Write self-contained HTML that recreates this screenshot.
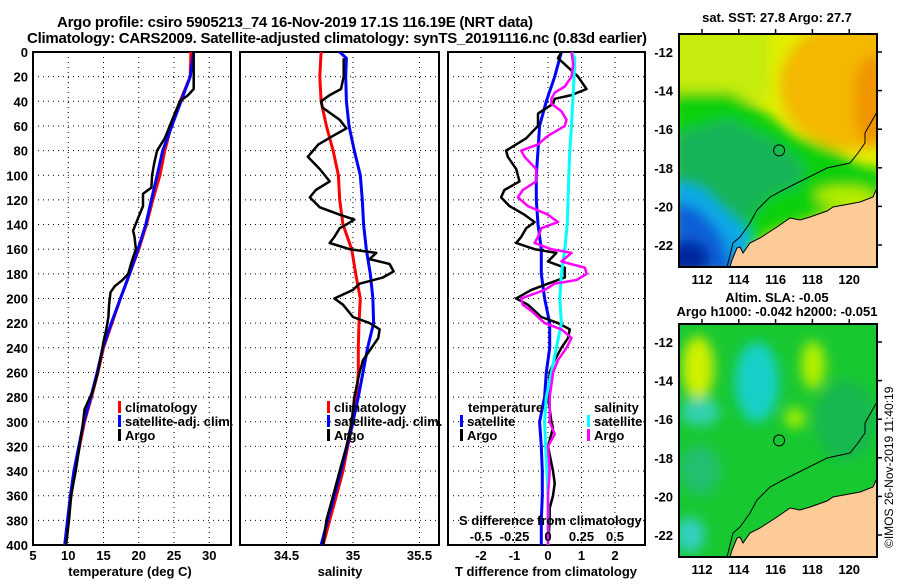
<!DOCTYPE html>
<html><head><meta charset="utf-8">
<style>
html,body{margin:0;padding:0;background:#fff;}
svg text{font-family:"Liberation Sans",sans-serif;font-weight:bold;fill:#000;}
</style></head>
<body>
<svg id="fig" width="900" height="580" viewBox="0 0 900 580" xmlns="http://www.w3.org/2000/svg">
<defs>
  <filter id="blur" x="-20%" y="-20%" width="140%" height="140%"><feGaussianBlur stdDeviation="6"/></filter>
  <clipPath id="clipTop"><rect x="679" y="34" width="198" height="233"/></clipPath>
  <clipPath id="clipBot"><rect x="679" y="324" width="198" height="233"/></clipPath>
  <clipPath id="cp1"><rect x="33" y="52" width="198" height="493"/></clipPath>
  <clipPath id="cp2"><rect x="240" y="52" width="199" height="493"/></clipPath>
  <clipPath id="cp3"><rect x="448" y="52" width="197" height="493"/></clipPath>
</defs>
<text x="295" y="27" text-anchor="middle" font-size="15" textLength="476">Argo profile: csiro 5905213_74 16-Nov-2019 17.1S 116.19E (NRT data)</text>
<text x="337" y="43" text-anchor="middle" font-size="15" textLength="620">Climatology: CARS2009. Satellite-adjusted climatology: synTS_20191116.nc (0.83d earlier)</text>

<g id="p1"></g>
<g id="p2"></g>
<g id="p3"></g>

<g>
  <text x="777" y="22" text-anchor="middle" font-size="13">sat. SST: 27.8 Argo: 27.7</text>
  <g clip-path="url(#clipTop)">
    <rect x="679" y="34" width="198" height="233" fill="#e2ee00"/>
    <g filter="url(#blur)">
      <rect x="670" y="25" width="100" height="75" fill="#c6ec10"/>
      <ellipse cx="855" cy="85" rx="75" ry="65" fill="#f4b800"/>
      <ellipse cx="872" cy="100" rx="18" ry="45" fill="#f09400"/>
      <polygon points="672,92 730,92 765,112 795,135 835,150 860,165 885,170 885,200 830,210 800,222 770,232 750,250 738,275 672,275" fill="#10d010"/>
      <polygon points="672,135 728,118 772,140 805,165 800,185 770,195 745,225 720,205 672,185" fill="#12b458"/>
      <ellipse cx="845" cy="196" rx="30" ry="9" fill="#b8ee00"/>
      <polygon points="672,180 702,188 725,210 748,230 752,275 672,275" fill="#10a8e8"/>
      <polygon points="672,200 700,210 722,235 735,275 672,275" fill="#1060d8"/>
      <ellipse cx="688" cy="258" rx="22" ry="18" fill="#0028a0"/>
    </g>
  </g>
</g>
<g>
  <text x="777" y="302" text-anchor="middle" font-size="13">Altim. SLA: -0.05</text>
  <text x="777" y="316" text-anchor="middle" font-size="13">Argo h1000: -0.042 h2000: -0.051</text>
  <g clip-path="url(#clipBot)">
    <rect x="679" y="324" width="198" height="233" fill="#18c830"/>
    <g filter="url(#blur)">
      <ellipse cx="698" cy="368" rx="16" ry="32" fill="#d0f000"/>
      <ellipse cx="813" cy="365" rx="12" ry="24" fill="#b4f000"/>
      <ellipse cx="795" cy="418" rx="10" ry="10" fill="#a8f000"/>
      <ellipse cx="757" cy="382" rx="22" ry="40" fill="#18d0c8"/>
      <ellipse cx="700" cy="412" rx="20" ry="14" fill="#30d0b0"/>
      <ellipse cx="845" cy="420" rx="30" ry="40" fill="#18b850"/>
      <ellipse cx="690" cy="535" rx="15" ry="18" fill="#30d0c0"/>
      <ellipse cx="700" cy="470" rx="20" ry="25" fill="#20c070"/>
    </g>
  </g>
</g>
<g id="maps"></g>
<text transform="translate(893,548) rotate(-90)" font-size="12" style="font-weight:normal">©IMOS 26-Nov-2019 11:40:19</text>
</svg>

<script>
// ---------- data ----------
const tempClimDepth=[0,20,40,60,80,100,120,140,160,180,200,220,240,260,280,300,320,340,360,380,400];
const tempClim=[27.4,27.3,25.85,24.6,23.7,23.0,22.0,21.1,20.0,18.7,17.4,16.2,15.0,14.2,13.3,12.3,11.6,10.9,10.4,10.0,9.6];
const tempSatDepth=[0,20,40,60,80,100,120,140,160,180,200,220,240,260,280,300,320,340,360,380,400];
const tempSat=[27.8,27.3,26.0,24.7,23.4,22.6,21.8,21.0,19.9,18.7,17.4,16.1,14.9,14.1,13.2,12.2,11.5,10.8,10.3,9.9,9.5];
const tempArgoDepth=[0,30,35,40,50,60,70,80,90,100,110,115,125,135,145,150,160,170,180,185,190,195,205,215,225,235,245,260,275,290,300,320,340,360,380,400];
const tempArgo=[27.8,27.8,27.0,25.85,25.1,24.4,23.7,22.6,22.2,21.9,21.8,20.6,20.6,19.9,19.2,19.4,19.6,19.0,18.5,17.7,16.6,16.0,15.8,15.7,15.4,15.0,14.7,14.2,13.5,12.3,12.1,11.6,11.05,10.4,10.1,9.7];

const salClimDepth=[0,20,40,60,80,100,120,140,160,180,200,220,240,260,280,300,320,340,360,380,400];
const salClim=[34.76,34.75,34.76,34.80,34.85,34.89,34.90,34.925,34.99,35.02,35.055,35.045,35.04,35.04,35.025,35.0,34.96,34.925,34.875,34.825,34.775];
const salSatDepth=[0,5,20,40,60,80,100,120,140,160,180,200,220,240,260,280,300,320,340,360,380,400];
const salSat=[34.90,34.95,34.945,34.95,34.97,35.01,35.055,35.07,35.08,35.10,35.13,35.15,35.155,35.11,35.075,35.04,35.0,34.955,34.91,34.86,34.81,34.76];
const salArgoDepth=[5,20,30,35,40,45,55,62,68,75,85,95,105,112,118,126,132,136,140,143,150,155,160,163,168,172,178,183,188,193,200,205,215,220,225,232,240,250,260,280,300,320,340,360,380,400];
const salArgo=[34.93,34.93,34.91,34.825,34.76,34.77,34.90,34.95,34.85,34.74,34.66,34.75,34.825,34.72,34.675,34.75,34.90,35.01,34.95,34.90,34.86,34.825,34.975,35.175,35.125,35.275,35.305,35.225,35.05,35.0,34.86,34.925,35.0,35.125,35.2,35.19,35.14,35.075,35.05,35.01,34.99,34.95,34.9,34.85,34.8,34.775];

const tDiffSatDepth=[0,20,40,60,80,100,120,140,160,180,200,220,240,260,280,300,320,340,360,380,400];
const tDiffSat=[0.4,0.2,-0.05,-0.25,-0.3,-0.35,-0.35,-0.3,-0.2,-0.2,-0.1,0.05,0.05,-0.05,-0.1,-0.25,-0.2,-0.17,-0.17,-0.2,-0.2];
const tDiffArgoDepth=[0,5,10,20,30,35,38,42,50,60,70,80,85,95,105,112,118,125,132,138,143,150,155,160,163,170,175,183,188,193,200,205,215,220,225,232,240,250,260,280,300,305,320,340,350,360,370,380,400];
const tDiffArgo=[0.4,0.3,0.5,0.9,1.15,0.7,0.2,0.15,-0.3,-0.3,-0.65,-1.25,-1.2,-0.95,-0.85,-1.3,-1.4,-1.15,-0.7,-0.4,-0.65,-0.8,-0.95,-0.4,0.25,0.0,0.5,0.5,0.0,-0.5,-0.95,-0.6,-0.2,0.3,0.65,0.6,0.4,0.2,0.05,0.0,0.1,0.15,0.0,0.15,0.2,0.15,0.05,0.05,0.0];
const sDiffSatDepth=[0,5,20,40,60,80,100,120,140,160,170,180,200,220,240,260,280,300,320,340,360,380,400];
const sDiffSat=[0.175,0.2,0.195,0.185,0.175,0.163,0.155,0.15,0.143,0.125,0.113,0.1,0.088,0.1,0.063,0.025,-0.013,-0.025,-0.018,-0.008,0,0,0];
const sDiffArgoDepth=[0,10,20,28,33,38,42,48,55,60,68,75,80,85,95,105,112,118,125,132,138,143,150,155,160,163,170,175,180,185,188,193,200,205,210,220,225,232,240,250,260,280,300,310,320,340,360,400];
const sDiffArgo=[0.175,0.188,0.175,0.125,0.05,0.025,0.025,0.1,0.138,0.125,0,-0.075,-0.2,-0.175,-0.088,-0.088,-0.188,-0.225,-0.15,0,0.075,-0.05,-0.075,-0.1,0.025,0.175,0.1,0.275,0.288,0.213,0.05,-0.025,-0.2,-0.188,-0.125,-0.025,0.1,0.175,0.138,0.075,0.038,0.013,0.013,0.05,0,0.013,0,0];

const depthTicks=[0,20,40,60,80,100,120,140,160,180,200,220,240,260,280,300,320,340,360,380,400];
const tempTicks=[5,10,15,20,25,30];
const salTicks=[34.5,35,35.5];
const tDiffTicks=[-2,-1,0,1,2];
const sDiffTicks=[-0.5,-0.25,0,0.25,0.5];
const sDiffTickLabels=["-0.5","-0.25","0","0.25","0.5"];
const mapLatTicks=[-12,-14,-16,-18,-20,-22];
const mapLonTicks=[112,114,116,118,120];

// ---------- scales ----------
const NS="http://www.w3.org/2000/svg";
const yD=d=>52+d*1.2325;
const xT=t=>33+(t-5)*7.05;
const xS=s=>286.5+(s-34.5)*133;
const xTD=t=>548+t*33.5;
const xSD=s=>548+s*134;
const mapX=lon=>702+(lon-112)*18.4;
const mapY=(lat,off)=>52+off+(-12-lat)*19.3;

function mk(tag,attrs,parent){const e=document.createElementNS(NS,tag);for(const k in attrs)e.setAttribute(k,attrs[k]);parent.appendChild(e);return e;}
function txt(parent,x,y,s,anchor,size){const t=mk('text',{x:x,y:y,'text-anchor':anchor,'font-size':size},parent);t.textContent=s;return t;}

function panel(g,x0,x1,xticks,xfn,xlabels,title,titleX,showY){
  depthTicks.forEach(d=>{
    if(d>0&&d<400){const l=mk('line',{x1:x0,x2:x1,y1:yD(d),y2:yD(d),stroke:'#000','stroke-width':1,'stroke-dasharray':'1,4'},g);
    
    }
    if(showY){const t=txt(g,28,yD(d)+5,String(d),'end',13);
    
    }
  });
  xticks.forEach((v,i)=>{
    const X=xfn(v);
    if(X>x0+1&&X<x1-1){const l=mk('line',{x1:X,x2:X,y1:52,y2:545,stroke:'#000','stroke-width':1,'stroke-dasharray':'1,4'},g);
    
    }
    const t=txt(g,X,560,xlabels[i],'middle',13);
    
    
  });
  const r=mk('rect',{x:x0,y:52,width:x1-x0,height:493,fill:'none',stroke:'#000','stroke-width':2},g);
  
  
  const t=txt(g,titleX,576,title,'middle',13);
  
  
}
function series(g,clip,depths,vals,xfn,color,w,name){
  const pts=depths.map((d,i)=>xfn(vals[i]).toFixed(1)+','+yD(d).toFixed(1)).join(' ');
  const p=mk('polyline',{points:pts,fill:'none',stroke:color,'stroke-width':w,'stroke-linejoin':'round','clip-path':'url(#'+clip+')'},g);
  
  
}
function legend(g,x,y,color,label){
  const b=mk('rect',{x:x,y:y-6,width:3,height:12,fill:color},g);
  
  
  const t=txt(g,x+7,y+5,label,'start',13);
  
  
}

const p1=document.getElementById('p1'),p2=document.getElementById('p2'),p3=document.getElementById('p3');
panel(p1,33,231,tempTicks,xT,tempTicks.map(String),'temperature (deg C)',130,true);
series(p1,'cp1',tempClimDepth,tempClim,xT,'#ff0000',3,'temperature-climatology-line');
series(p1,'cp1',tempSatDepth,tempSat,xT,'#0000ff',3,'temperature-satellite-line');
series(p1,'cp1',tempArgoDepth,tempArgo,xT,'#000000',2.5,'temperature-argo-line');
legend(p1,118,407,'#ff0000','climatology');
legend(p1,118,421,'#0000ff','satellite-adj. clim.');
legend(p1,118,435,'#000000','Argo');

panel(p2,240,439,salTicks,xS,["34.5","35","35.5"],'salinity',340,false);
series(p2,'cp2',salClimDepth,salClim,xS,'#ff0000',3,'salinity-climatology-line');
series(p2,'cp2',salSatDepth,salSat,xS,'#0000ff',3,'salinity-satellite-line');
series(p2,'cp2',salArgoDepth,salArgo,xS,'#000000',2.5,'salinity-argo-line');
legend(p2,327,407,'#ff0000','climatology');
legend(p2,327,421,'#0000ff','satellite-adj. clim.');
legend(p2,327,435,'#000000','Argo');

panel(p3,448,645,tDiffTicks,xTD,tDiffTicks.map(String),'T difference from climatology',546,false);
series(p3,'cp3',tDiffSatDepth,tDiffSat,xTD,'#0000ff',3,'t-diff-satellite-line');
series(p3,'cp3',tDiffArgoDepth,tDiffArgo,xTD,'#000000',2.5,'t-diff-argo-line');
series(p3,'cp3',sDiffSatDepth,sDiffSat,xSD,'#00ffff',3,'s-diff-satellite-line');
series(p3,'cp3',sDiffArgoDepth,sDiffArgo,xSD,'#ff00ff',2.5,'s-diff-argo-line');
{
  const t1=txt(p3,468,412,'temperature','start',13);
  
  
  const t2=txt(p3,594,412,'salinity','start',13);
  
  
  legend(p3,460,421,'#0000ff','satellite');
  legend(p3,460,435,'#000000','Argo');
  legend(p3,587,421,'#00ffff','satellite');
  legend(p3,587,435,'#ff00ff','Argo');
  const t3=txt(p3,459,525,'S difference from climatology','start',13);
  
  
  sDiffTicks.forEach((v,i)=>{
    const t=txt(p3,xSD(v),541,sDiffTickLabels[i],'middle',13);
    
    
  });
}

// ---------- maps ----------
const coast=[[877,188],[873,197],[860,202],[833,207],[827,211],[810,217],[800,220],[790,218],[777,227],[760,238],[750,243],[743,253],[740,247],[737,248],[732,260],[730,267]];
const bathy=[[877,112],[865,133],[865,143],[858,153],[850,163],[827,168],[803,180],[783,190],[770,197],[757,210],[750,223],[740,237],[733,243],[727,267]];
const maps=document.getElementById('maps');
[0,290].forEach(off=>{
  const g=mk('g',{'clip-path':'url(#'+(off?'clipBot':'clipTop')+')'},maps);
  
  
  const land=coast.map(p=>p[0]+','+(p[1]+off)).join(' ')+' 880,'+(270+off)+' 880,'+(150+off);
  const lp=mk('polygon',{points:land,fill:'#fccb98',stroke:'#000','stroke-width':1},g);
  
  
  const bl=mk('polyline',{points:bathy.map(p=>p[0]+','+(p[1]+off)).join(' '),fill:'none',stroke:'#000','stroke-width':1},g);
  
  
  const c=mk('circle',{cx:mapX(116.19),cy:mapY(-17.1,off),r:5.5,fill:'none',stroke:'#000','stroke-width':1},maps);
  
  
  const fr=mk('rect',{x:679,y:34+off,width:198,height:233,fill:'none',stroke:'#000','stroke-width':2},maps);
  
  
  mapLatTicks.forEach(l=>{
    const Y=mapY(l,off);
    mk('line',{x1:877,x2:882,y1:Y,y2:Y,stroke:'#000','stroke-width':1.5},maps);
    const t=txt(maps,673,Y+5,String(l),'end',13);
    
    
  });
  mapLonTicks.forEach(l=>{
    const X=mapX(l);
    mk('line',{x1:X,x2:X,y1:34+off,y2:29+off,stroke:'#000','stroke-width':1.5},maps);
    const t=txt(maps,X,284+off,String(l),'middle',13);
    
    
  });
});
</script>
</body></html>
